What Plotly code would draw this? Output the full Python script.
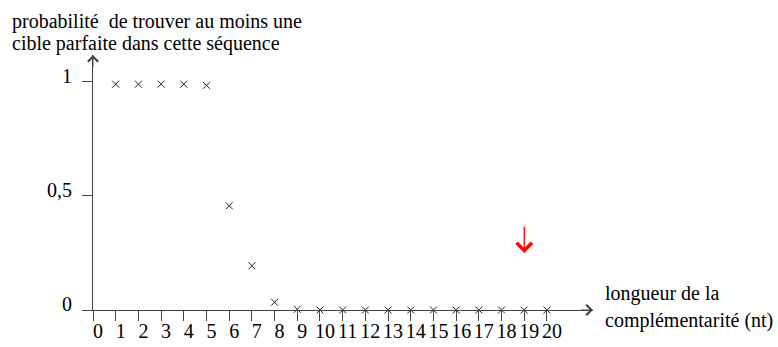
import plotly.graph_objects as go

# ── DATA ───────────────────────────────────────────────
longueur = list(range(1, 21))
probabilite = [0.99, 0.99, 0.99, 0.99, 0.985, 0.457, 0.194, 0.034,
               0.003, 0.0, 0.0, 0.0, 0.0, 0.0, 0.0, 0.0, 0.0, 0.0, 0.0, 0.0]
x_ticks = list(range(0, 21))
y_ticks = [0, 0.5, 1]
y_ticklabels = ['0', '0,5', '1']
fleche_x = 19  # red arrow marks this length
y_titre = ['probabilité  de trouver au moins une',
           'cible parfaite dans cette séquence']
x_titre = ['longueur de la', 'complémentarité (nt)']

FONT = 'Liberation Serif'
AXIS = '#444444'

W, H = 778, 347
L, R, T, B = 93, 185, 55, 37
PW, PH = W - L - R, H - T - B
X_MAX, Y_MAX = 22.03, 1.118


def px(x):
    return (x - L) / PW


def py(y):
    return (H - B - y) / PH


def label(text, x, y):
    return dict(x=px(x), y=py(y), xref='paper', yref='paper',
                xanchor='left', yanchor='middle', align='left',
                showarrow=False, text=text,
                font=dict(size=20, color='#000000', family=FONT))


fig = go.Figure()
fig.add_trace(go.Scatter(
    x=longueur, y=probabilite, mode='markers',
    marker=dict(symbol='x-thin', size=7, line=dict(width=1, color='#222222'),
                color='#222222'),
    cliponaxis=False, showlegend=False, hoverinfo='x+y',
))

annotations = [
    # axis arrowheads
    dict(x=X_MAX, y=0, ax=X_MAX - 0.6, ay=0, xref='x', yref='y',
         axref='x', ayref='y', text='', showarrow=True, arrowhead=4,
         arrowsize=2, arrowwidth=1, arrowcolor=AXIS),
    dict(x=0, y=Y_MAX, ax=0, ay=Y_MAX - 0.06, xref='x', yref='y',
         axref='x', ayref='y', text='', showarrow=True, arrowhead=4,
         arrowsize=2, arrowwidth=1, arrowcolor=AXIS),
    # red arrow
    dict(x=fleche_x, y=0.25, ax=fleche_x, ay=0.373, xref='x', yref='y',
         axref='x', ayref='y', text='', showarrow=True, arrowhead=4,
         arrowsize=2.3, arrowwidth=1.3, arrowcolor='#ff0000'),
    # axis titles, one line each
    label(y_titre[0], 10, 21),
    label(y_titre[1], 10, 44),
    label(x_titre[0], 603, 293),
    label(x_titre[1], 603, 320),
]

fig.update_layout(
    width=W, height=H,
    margin=dict(l=L, r=R, t=T, b=B, autoexpand=False),
    paper_bgcolor='#ffffff', plot_bgcolor='#ffffff',
    font=dict(family=FONT, size=20, color='#000000'),
    xaxis=dict(
        range=[0, X_MAX], showgrid=False, zeroline=False, automargin=False,
        showline=True, linecolor=AXIS, linewidth=1,
        ticks='outside', ticklen=10, tickcolor=AXIS, tickwidth=1,
        tickvals=x_ticks, ticktext=[str(v) for v in x_ticks],
        ticklabelshift=5, ticklabelstandoff=-7,
        tickfont=dict(size=20, family=FONT, color='#000000'),
    ),
    yaxis=dict(
        range=[0, Y_MAX], showgrid=False, zeroline=False, automargin=False,
        showline=True, linecolor=AXIS, linewidth=1,
        ticks='outside', ticklen=10, tickcolor=AXIS, tickwidth=1,
        tickvals=y_ticks, ticktext=y_ticklabels,
        ticklabelshift=-6, ticklabelstandoff=6,
        tickfont=dict(size=20, family=FONT, color='#000000'),
    ),
    annotations=annotations,
)

fig.write_html('out.html', config={'displayModeBar': False},
               post_script="document.body.style.margin='0';")
